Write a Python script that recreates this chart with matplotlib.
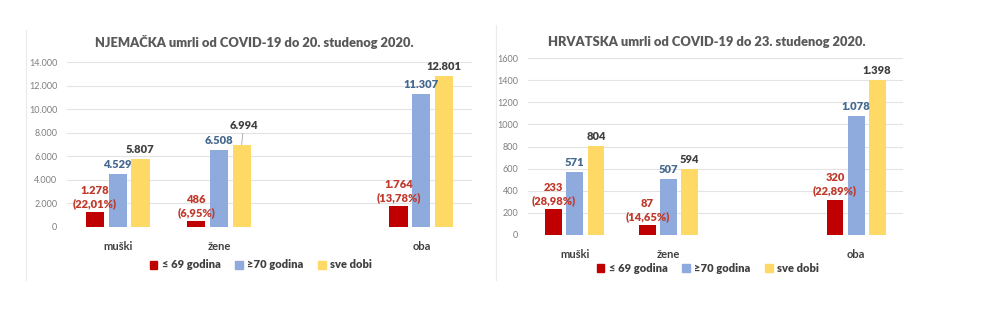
import numpy as np
import matplotlib.pyplot as plt
from matplotlib.lines import Line2D
from matplotlib.patches import Patch

plt.rcParams['font.family'] = ['Lato', 'DejaVu Sans']

categories = ['muški', 'žene', 'oba']
series_names = ['≤ 69 godina', '≥70 godina', 'sve dobi']

de_young = [1278, 486, 1764]
de_old = [4529, 6508, 11307]
de_all = [5807, 6994, 12801]
de_pct = [22.01, 6.95, 13.78]
de_ticks = [0, 2000, 4000, 6000, 8000, 10000, 12000, 14000]

hr_young = [233, 87, 320]
hr_old = [571, 507, 1078]
hr_all = [804, 594, 1398]
hr_pct = [28.98, 14.65, 22.89]
hr_ticks = [0, 200, 400, 600, 800, 1000, 1200, 1400, 1600]

bar_colors = ['#C00000', '#8FAADC', '#FFD966']
label_colors = ['#C0392B', '#44688F', '#404040']
grey = '#595959'


def dotted(v):
    return f'{v:,}'.replace(',', '.')


def draw_panel(ax, title, young, old, total, pct, ticks, tick_fmt, title_x, leader=None):
    pos = np.array([0, 1, 3])  # empty slot between žene and oba
    step = 0.225
    w = 0.18
    for k, vals in enumerate([young, old, total]):
        ax.bar(pos + (k - 1) * step, vals, w, color=bar_colors[k], zorder=3)
    ax.set_xlim(-0.5, 3.5)
    ax.set_ylim(0, ticks[-1])
    ax.set_yticks(ticks)
    ax.set_yticklabels([tick_fmt(t) for t in ticks], fontsize=6.5, color='#7F7F7F')
    ax.set_xticks(pos)
    ax.set_xticklabels(categories, fontsize=8, fontweight='bold', color='#404040')
    ax.tick_params(length=0, pad=10)
    ax.tick_params(axis='y', pad=7)
    ax.grid(axis='y', color='#E3E3E3', lw=0.8, zorder=0)
    for s in ax.spines.values():
        s.set_visible(False)

    # value labels
    for i, p in enumerate(pos):
        txt = dotted(young[i]) + '\n(' + f'{pct[i]:.2f}'.replace('.', ',') + '%)'
        ax.annotate(txt, (p - step, young[i]), xytext=(0, 3), textcoords='offset pixels',
                    ha='center', va='bottom', fontsize=8, fontweight='heavy',
                    color=label_colors[0], linespacing=1.25)
        ax.annotate(dotted(old[i]), (p, old[i]), xytext=(0, 4), textcoords='offset pixels',
                    ha='center', va='bottom', fontsize=8, fontweight='heavy', color=label_colors[1])
        if i == leader:
            ax.annotate(dotted(total[i]), (p + step, total[i]), xytext=(2, 14),
                        textcoords='offset pixels', ha='center', va='bottom', fontsize=8,
                        fontweight='heavy', color=label_colors[2],
                        arrowprops=dict(arrowstyle='-', color='#A6A6A6', lw=0.6,
                                        shrinkA=0, shrinkB=0))
        else:
            ax.annotate(dotted(total[i]), (p + step, total[i]), xytext=(0, 4),
                        textcoords='offset pixels', ha='center', va='bottom', fontsize=8,
                        fontweight='heavy', color=label_colors[2])

    fig.text(title_x, 0.87, title, ha='center', va='center', fontsize=9.3,
             fontweight='heavy', color=grey)


fig = plt.figure(figsize=(9.88, 3.23), dpi=100)

ax1 = fig.add_axes([67 / 988, 96 / 323, 405 / 988, 165 / 323])
draw_panel(ax1, 'NJEMAČKA umrli od COVID-19 do 20. studenog 2020.',
           de_young, de_old, de_all, de_pct, de_ticks, dotted, 254 / 988, leader=1)

ax2 = fig.add_axes([528 / 988, 88 / 323, 375 / 988, 177 / 323])
draw_panel(ax2, 'HRVATSKA umrli od COVID-19 do 23. studenog 2020.',
           hr_young, hr_old, hr_all, hr_pct, hr_ticks, str, 707 / 988)

handles = [Patch(color=c) for c in bar_colors]
for cx, cy in [(261, 265), (708, 268)]:
    fig.legend(handles, series_names, loc='center', bbox_to_anchor=(cx / 988, 1 - cy / 323),
               ncol=3, frameon=False, handlelength=0.7, handleheight=0.7,
               handletextpad=0.4, columnspacing=1.3, prop={'weight': 'heavy', 'size': 8},
               labelcolor='#404040')

# faint frame edges of the two pasted charts
fig.add_artist(Line2D([26 / 988, 26 / 988], [1 - 30 / 323, 1 - 280 / 323], color='#EBEBEB', lw=0.8))
fig.add_artist(Line2D([496 / 988, 496 / 988], [1 - 25 / 323, 1 - 280 / 323], color='#EBEBEB', lw=0.8))

plt.savefig('out.png', dpi=100)
